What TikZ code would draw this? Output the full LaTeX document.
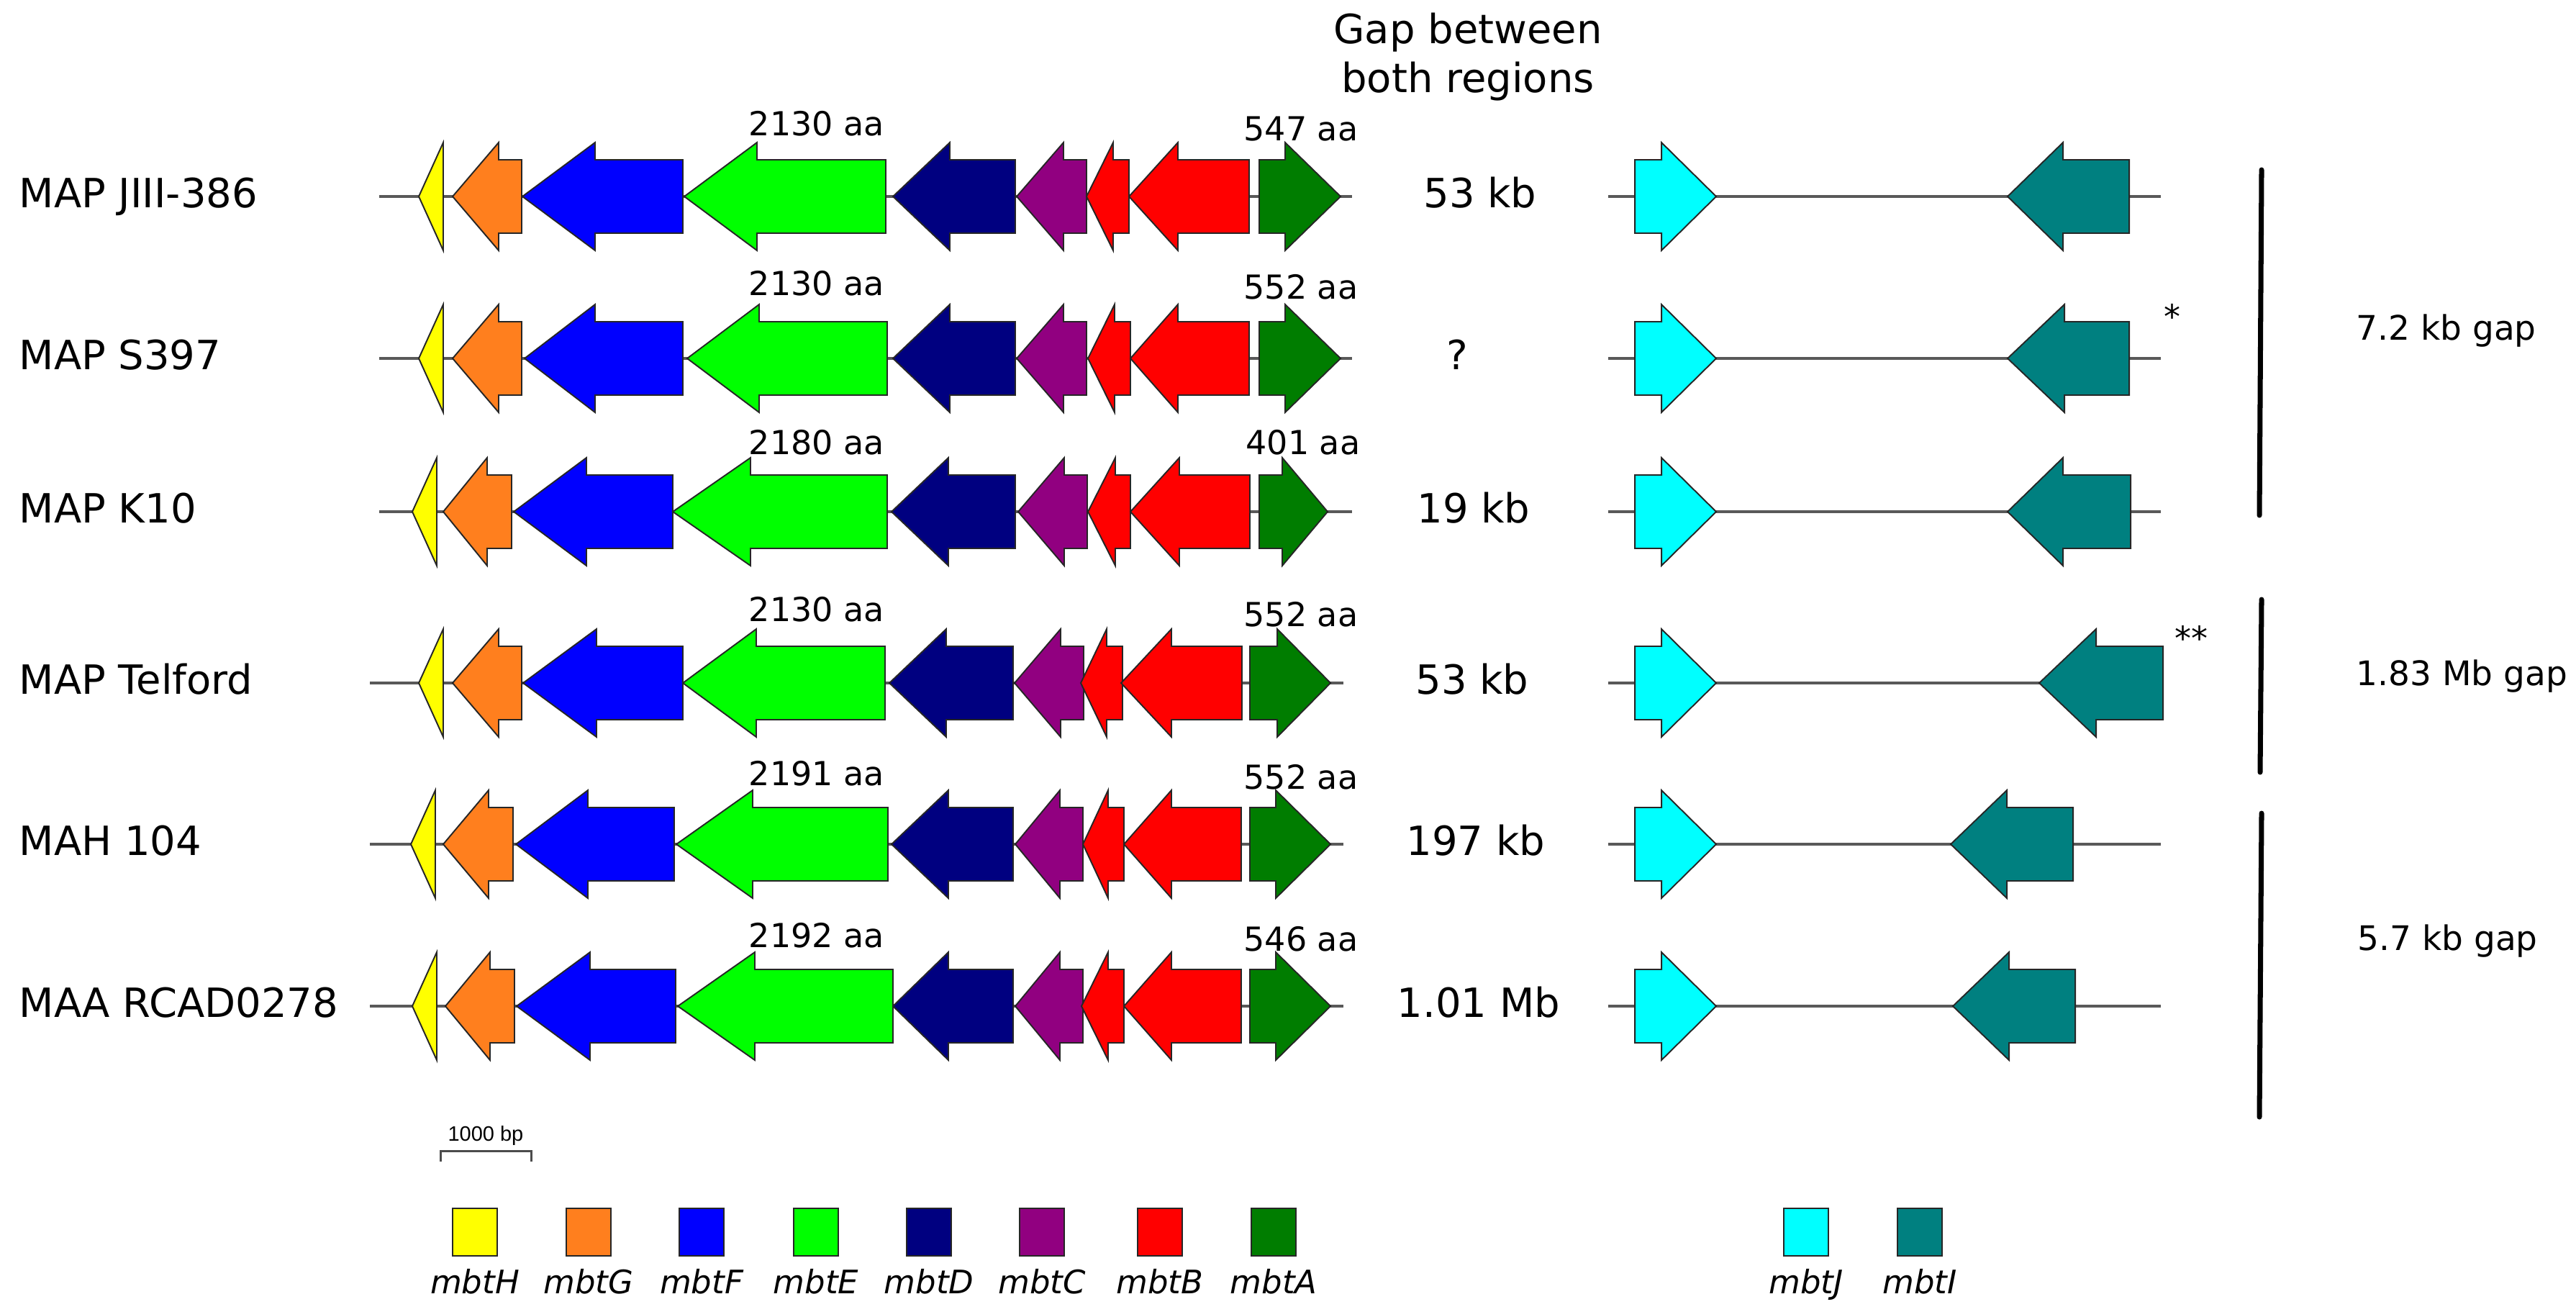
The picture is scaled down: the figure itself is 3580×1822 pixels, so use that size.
\documentclass[tikz,border=0pt]{standalone}
\usepackage{fontspec}
\setmainfont{DejaVu Sans}
\newfontfamily\barfont{Liberation Sans}
\usetikzlibrary{positioning}

\definecolor{hyellow}{RGB}{255,255,0}
\definecolor{gorange}{RGB}{255,127,30}
\definecolor{fblue}{RGB}{0,0,255}
\definecolor{egreen}{RGB}{0,255,0}
\definecolor{dnavy}{RGB}{0,0,128}
\definecolor{cpurple}{RGB}{145,0,128}
\definecolor{bred}{RGB}{255,0,0}
\definecolor{agreen}{RGB}{0,125,0}
\definecolor{jcyan}{RGB}{0,255,255}
\definecolor{iteal}{RGB}{0,128,128}

% left gene: tip, head base, end, row, colour
\newcommand{\geneL}[5]{\filldraw[gene, fill=#5] (#1,#4) -- (#2,#4-75) -- (#2,#4-51) -- (#3,#4-51) -- (#3,#4+51) -- (#2,#4+51) -- (#2,#4+75) -- cycle;}
% right gene: start, head base, tip, row, colour
\newcommand{\geneR}[5]{\filldraw[gene, fill=#5] (#3,#4) -- (#2,#4-75) -- (#2,#4-51) -- (#1,#4-51) -- (#1,#4+51) -- (#2,#4+51) -- (#2,#4+75) -- cycle;}
% head only
\newcommand{\headL}[4]{\filldraw[gene, fill=#4] (#1,#3) -- (#2,#3-75) -- (#2,#3+75) -- cycle;}

\begin{document}
\begin{tikzpicture}[x=0.1mm, y=-0.1mm,
    gene/.style={draw=black!85, line width=0.55pt},
    backbone/.style={draw=black!65, line width=0.9pt},
    strain/.style={font=\fontsize{15.93}{19}\selectfont, anchor=base west, inner sep=0pt},
    gaptext/.style={font=\fontsize{15.93}{19}\selectfont, anchor=base, inner sep=0pt},
    aatext/.style={font=\fontsize{13.09}{16}\selectfont, inner sep=0pt},
    sidetext/.style={font=\fontsize{13.37}{16}\selectfont, anchor=base west, inner sep=0pt},
    keybox/.style={draw=black!85, line width=0.6pt, minimum width=6.2mm, minimum height=6.6mm, inner sep=0pt},
    keytext/.style={font=\fontsize{12.8}{15}\selectfont\itshape, anchor=base, inner sep=0pt},
    bracket/.style={line width=2pt, line cap=round}]
    \useasboundingbox (0,0) rectangle (3580,1822);

    % Header
    \node[font=\fontsize{15.93}{19.35}\selectfont, align=center, inner sep=0pt] (head) at (2040,79) {Gap between\\both regions};

    % MAP JIII-386
    \node[strain] (s1) at (26,288) {MAP JIII-386};
    \draw[backbone] (527,273) -- (1879,273);
    \headL{582}{616}{273}{hyellow}
    \geneL{629}{693}{725}{273}{gorange}
    \geneL{726}{827}{949}{273}{fblue}
    \geneL{951}{1052}{1231}{273}{egreen}
    \geneL{1241}{1320}{1411}{273}{dnavy}
    \geneL{1413}{1478}{1510}{273}{cpurple}
    \geneL{1510}{1547}{1569}{273}{bred}
    \geneL{1569}{1637}{1736}{273}{bred}
    \geneR{1750}{1786}{1863}{273}{agreen}
    \node[aatext, anchor=base] (e1) at (1135,188) {2130 aa};
    \node[aatext, anchor=base east] (a1) at (1888,195) {547 aa};
    \node[gaptext] (g1) at (2057,288) {53 kb};
    \draw[backbone] (2235,273) -- (3003,273);
    \geneR{2272}{2309}{2385}{273}{jcyan}
    \geneL{2790}{2867}{2959}{273}{iteal}

    % MAP S397
    \node[strain] (s2) at (26,513) {MAP S397};
    \draw[backbone] (527,498) -- (1879,498);
    \headL{582}{616}{498}{hyellow}
    \geneL{629}{693}{725}{498}{gorange}
    \geneL{729}{827}{949}{498}{fblue}
    \geneL{955}{1055}{1233}{498}{egreen}
    \geneL{1241}{1320}{1411}{498}{dnavy}
    \geneL{1413}{1478}{1510}{498}{cpurple}
    \geneL{1512}{1549}{1571}{498}{bred}
    \geneL{1571}{1637}{1736}{498}{bred}
    \geneR{1750}{1786}{1863}{498}{agreen}
    \node[aatext, anchor=base] (e2) at (1135,410) {2130 aa};
    \node[aatext, anchor=base east] (a2) at (1888,415) {552 aa};
    \node[gaptext] (g2) at (2025,513) {?};
    \draw[backbone] (2235,498) -- (3003,498);
    \geneR{2272}{2309}{2385}{498}{jcyan}
    \geneL{2790}{2869}{2959}{498}{iteal}
    \node[aatext, anchor=base] (st2) at (3019,456) {*};

    % MAP K10
    \node[strain] (s3) at (26,726) {MAP K10};
    \draw[backbone] (527,711) -- (1879,711);
    \headL{573}{607}{711}{hyellow}
    \geneL{616}{677}{711}{711}{gorange}
    \geneL{714}{815}{935}{711}{fblue}
    \geneL{935}{1043}{1233}{711}{egreen}
    \geneL{1239}{1318}{1411}{711}{dnavy}
    \geneL{1415}{1479}{1511}{711}{cpurple}
    \geneL{1512}{1550}{1571}{711}{bred}
    \geneL{1571}{1639}{1737}{711}{bred}
    \geneR{1750}{1782}{1845}{711}{agreen}
    \node[aatext, anchor=base] (e3) at (1135,631) {2180 aa};
    \node[aatext, anchor=base east] (a3) at (1891,631) {401 aa};
    \node[gaptext] (g3) at (2048,726) {19 kb};
    \draw[backbone] (2235,711) -- (3003,711);
    \geneR{2272}{2309}{2385}{711}{jcyan}
    \geneL{2790}{2867}{2961}{711}{iteal}

    % MAP Telford
    \node[strain] (s4) at (26,964) {MAP Telford};
    \draw[backbone] (514,949) -- (1867,949);
    \headL{582}{616}{949}{hyellow}
    \geneL{629}{693}{725}{949}{gorange}
    \geneL{727}{829}{949}{949}{fblue}
    \geneL{949}{1051}{1230}{949}{egreen}
    \geneL{1236}{1315}{1408}{949}{dnavy}
    \geneL{1410}{1474}{1506}{949}{cpurple}
    \geneL{1502}{1538}{1560}{949}{bred}
    \geneL{1558}{1628}{1726}{949}{bred}
    \geneR{1737}{1775}{1849}{949}{agreen}
    \node[aatext, anchor=base] (e4) at (1135,863) {2130 aa};
    \node[aatext, anchor=base east] (a4) at (1888,870) {552 aa};
    \node[gaptext] (g4) at (2046,964) {53 kb};
    \draw[backbone] (2235,949) -- (3006,949);
    \geneR{2272}{2309}{2385}{949}{jcyan}
    \geneL{2834}{2913}{3006}{949}{iteal}
    \node[aatext, anchor=base] (st4) at (3045,903) {**};

    % MAH 104
    \node[strain] (s5) at (26,1188) {MAH 104};
    \draw[backbone] (514,1173) -- (1867,1173);
    \headL{571}{605}{1173}{hyellow}
    \geneL{616}{679}{713}{1173}{gorange}
    \geneL{717}{817}{937}{1173}{fblue}
    \geneL{940}{1046}{1234}{1173}{egreen}
    \geneL{1239}{1318}{1408}{1173}{dnavy}
    \geneL{1411}{1473}{1505}{1173}{cpurple}
    \geneL{1505}{1540}{1562}{1173}{bred}
    \geneL{1562}{1628}{1725}{1173}{bred}
    \geneR{1737}{1773}{1849}{1173}{agreen}
    \node[aatext, anchor=base] (e5) at (1135,1091) {2191 aa};
    \node[aatext, anchor=base east] (a5) at (1888,1096) {552 aa};
    \node[gaptext] (g5) at (2051,1188) {197 kb};
    \draw[backbone] (2235,1173) -- (3003,1173);
    \geneR{2272}{2309}{2385}{1173}{jcyan}
    \geneL{2711}{2789}{2881}{1173}{iteal}

    % MAA RCAD0278
    \node[strain] (s6) at (26,1413) {MAA RCAD0278};
    \draw[backbone] (514,1398) -- (1867,1398);
    \headL{573}{607}{1398}{hyellow}
    \geneL{619}{681}{715}{1398}{gorange}
    \geneL{718}{820}{939}{1398}{fblue}
    \geneL{942}{1049}{1241}{1398}{egreen}
    \geneL{1241}{1318}{1408}{1398}{dnavy}
    \geneL{1411}{1473}{1505}{1398}{cpurple}
    \geneL{1503}{1540}{1562}{1398}{bred}
    \geneL{1562}{1628}{1725}{1398}{bred}
    \geneR{1737}{1773}{1849}{1398}{agreen}
    \node[aatext, anchor=base] (e6) at (1135,1316) {2192 aa};
    \node[aatext, anchor=base east] (a6) at (1888,1321) {546 aa};
    \node[gaptext] (g6) at (2055,1413) {1.01 Mb};
    \draw[backbone] (2235,1398) -- (3003,1398);
    \geneR{2272}{2309}{2385}{1398}{jcyan}
    \geneL{2714}{2792}{2884}{1398}{iteal}

    % Gaps between mbtJ and mbtI
    \draw[bracket] (3143,236) -- (3140,716);
    \draw[bracket] (3143,833) -- (3141,1073);
    \draw[bracket] (3143,1130) -- (3140,1552);
    \node[sidetext] (gapA) at (3274,472) {7.2 kb gap};
    \node[sidetext] (gapB) at (3274,952) {1.83 Mb gap};
    \node[sidetext] (gapC) at (3276,1320) {5.7 kb gap};

    % Scale bar
    \node[font=\barfont\fontsize{8.25}{10}\selectfont, anchor=base, inner sep=0pt] (scale) at (675,1585) {1000 bp};
    \draw[line width=0.85pt, black!70] (612,1614) -- (612,1599) -- (738,1599) -- (738,1614);

    % Legend
    \foreach \x/\c/\n in {660/hyellow/H, 818/gorange/G, 975/fblue/F, 1134/egreen/E, 1291/dnavy/D, 1448/cpurple/C, 1612/bred/B, 1770/agreen/A, 2510/jcyan/J, 2668/iteal/I} {
        \node[keybox, fill=\c] (key\n) at (\x,1712) {};
        \node[keytext] (name\n) at (\x,1797) {mbt\n};
    }
\end{tikzpicture}
\end{document}
